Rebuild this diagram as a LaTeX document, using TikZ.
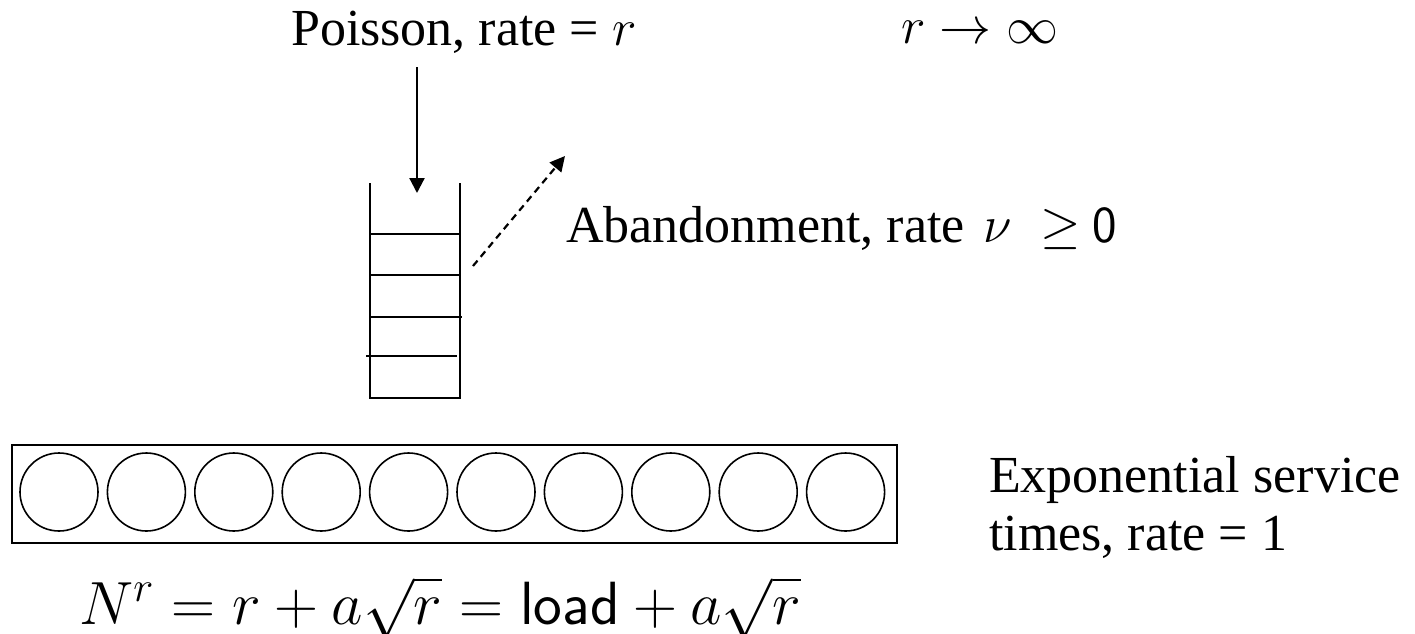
\RequirePackage{fix-cm}
\documentclass[tikz,border=0pt]{standalone}
\usepackage{fontspec}
\setmainfont{Liberation Serif}
\usetikzlibrary{arrows.meta}
\begin{document}
\begin{tikzpicture}[x=0.5pt,y=-0.5pt,line width=1.1pt,
  txt/.style={anchor=base west,inner sep=0pt,font=\fontsize{26}{30}\selectfont},
  tiparrow/.style={-{Triangle[length=7.5pt,width=7.5pt]}},
  server/.style={line width=0.8pt}]
\useasboundingbox (0,0) rectangle (1415,633);
% texts
\node[txt] (poisson) at (290,45) {Poisson, rate = $r$};
\node[txt] (rinf) at (900,43) {$r\to\infty$};
\node[txt] (aband) at (565,242) {Abandonment, rate\hspace{3pt} $\nu\;\geq\mskip-1mu\mathsf{0}$};
\node[txt] (exp1) at (988,492) {Exponential service};
\node[txt] (exp2) at (988,550) {times, rate = 1};
\node[txt,font=\fontsize{30.5}{34}\selectfont] (form) at (78,624) {$N^r = r + a\sqrt{r} = \mathsf{load} + a\sqrt{r}$};
% queue
\draw (370,183) -- (370,398) -- (460,398) -- (460,183);
\draw (370,234) -- (460,234);
\draw (370,275) -- (460,275);
\draw (370,317) -- (462,317);
\draw (366,356) -- (457,356);
% arrival arrow
\coordinate (arrtop) at (417,67);
\coordinate (qin) at (417,193);
\draw[tiparrow] (arrtop) -- (qin);
% abandonment arrow
\coordinate (abs) at (473,266);
\coordinate (abe) at (565,156);
\draw[tiparrow,dash pattern=on 3.5pt off 2.5pt] (abs) -- (abe);
% servers
\draw[line width=1pt] (12,445) rectangle (897,543);
\foreach \i in {0,...,9}
  \draw[server] (59+87.4*\i,492) circle[radius=19.5pt];
\end{tikzpicture}
\end{document}
